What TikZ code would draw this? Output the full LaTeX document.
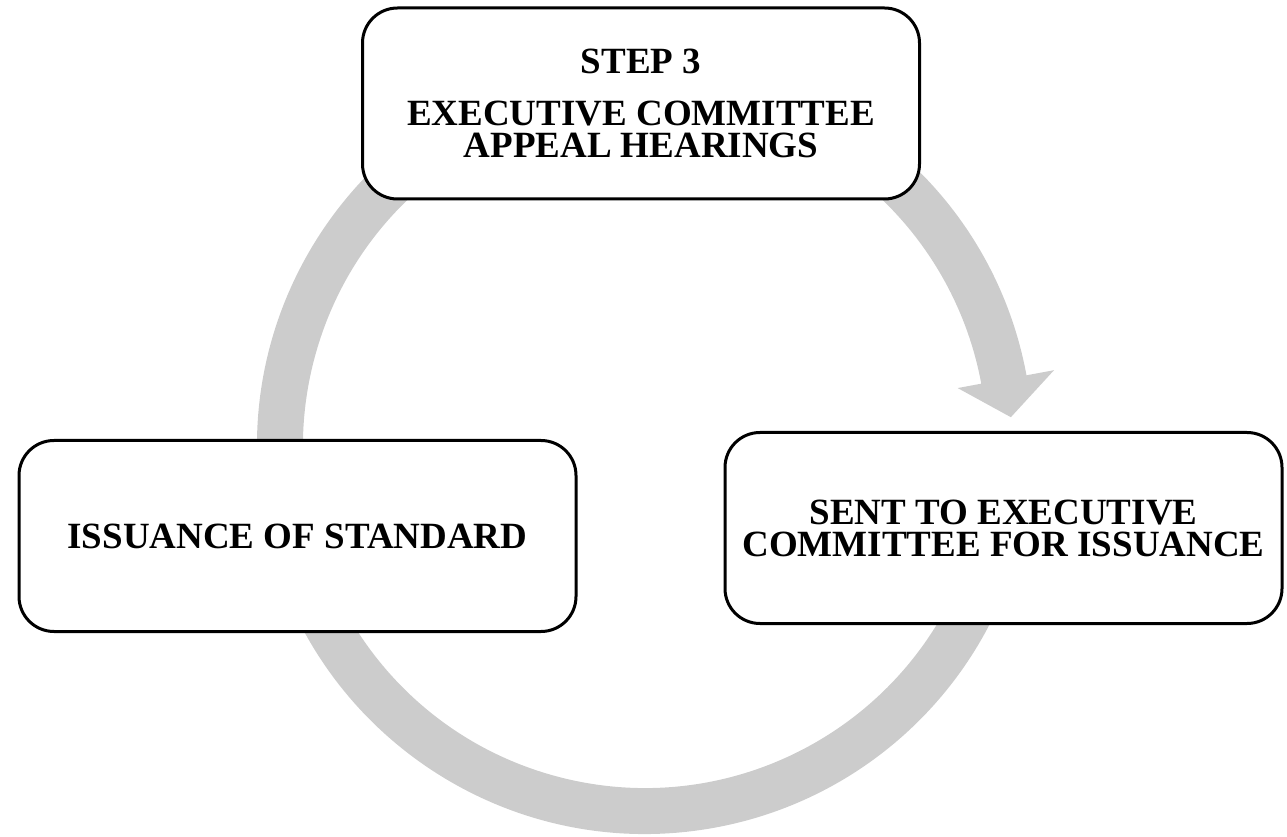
\documentclass[tikz,border=0pt]{standalone}
\usepackage{fontspec}
\setmainfont{Liberation Serif}
\usetikzlibrary{calc}
\definecolor{ringgrey}{HTML}{CCCCCC}
\tikzset{
  stage box/.style={
    draw=black,
    line width=3pt,
    fill=white,
    rounded corners=35pt,
    minimum width=557pt,
    minimum height=191pt,
    align=center,
    inner sep=0pt,
    font=\bfseries\fontsize{37}{32}\selectfont
  }
}

\begin{document}
\begin{tikzpicture}[x=1pt,y=1pt]
\useasboundingbox (0,0) rectangle (1287,836);
\coordinate (C) at (645,390);
% cycle arrow behind the boxes
\fill[ringgrey] ($(C)+(10.5:388)$) arc[start angle=10.5, end angle=345, radius=388]
  -- ($(C)+(345:342)$) arc[start angle=345, end angle=10.5, radius=342]
  -- ($(C)+(10.5:318)$) -- ($(C)+(4.5:367)$) -- ($(C)+(10.5:416)$) -- cycle;
\node[stage box] (appeal) at (641,732.5)
  {STEP 3\\[20pt]EXECUTIVE COMMITTEE\\APPEAL HEARINGS};
\node[stage box] (sent) at (1003.5,308)
  {SENT TO EXECUTIVE\\COMMITTEE FOR ISSUANCE};
\node[stage box] (issue) at (297.5,300)
  {ISSUANCE OF STANDARD};
\end{tikzpicture}
\end{document}
